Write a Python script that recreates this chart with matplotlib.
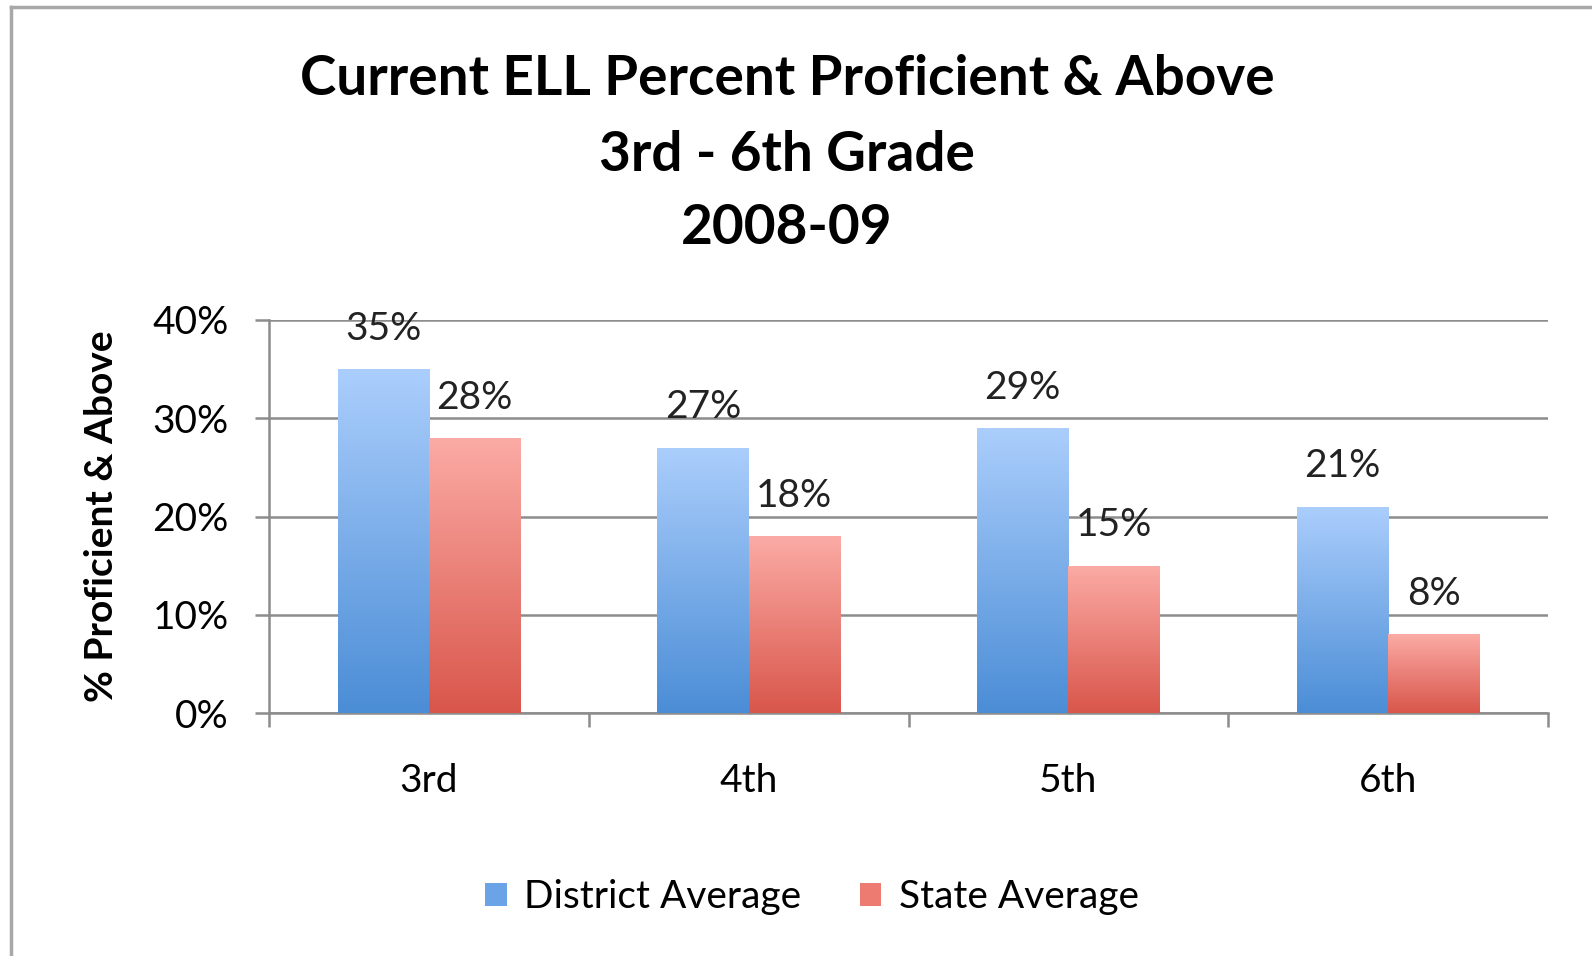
import numpy as np
import matplotlib
matplotlib.use("Agg")
import matplotlib.pyplot as plt
from matplotlib.patches import Patch
from matplotlib.lines import Line2D

grades = ["3rd", "4th", "5th", "6th"]
district = [35, 27, 29, 21]
state = [28, 18, 15, 8]
yticks = [0, 10, 20, 30, 40]

plt.rcParams['font.family'] = ['Lato', 'DejaVu Sans']

blue_top, blue_bot = "#abcefc", "#4b8dd6"
red_top, red_bot = "#fbaba5", "#d9564b"
fs = 28

fig = plt.figure(figsize=(15.92, 9.56), dpi=100)
ax = fig.add_axes([269 / 1592, 1 - 713 / 956, (1548 - 269) / 1592, (713 - 320) / 956])

# outer frame (top + left line only, like the cropped screenshot)
fig.add_artist(Line2D([11 / 1592, 1], [1 - 7 / 956, 1 - 7 / 956], color="#a8a8a8", lw=2.5, transform=fig.transFigure))
fig.add_artist(Line2D([11 / 1592, 11 / 1592], [0, 1 - 7 / 956], color="#a8a8a8", lw=2.5, transform=fig.transFigure))


def grad_bars(xs, vals, top, bot, width):
    bars = ax.bar(xs, vals, width, color="none", edgecolor="none", zorder=3)
    cmap = matplotlib.colors.LinearSegmentedColormap.from_list("g", [bot, top])
    g = np.linspace(0, 1, 256).reshape(-1, 1)
    for b in bars:
        x0 = b.get_x()
        im = ax.imshow(g, cmap=cmap, origin="lower", aspect="auto",
                       extent=[x0, x0 + b.get_width(), 0, b.get_height()], zorder=3)
        im.set_clip_path(b)
    return bars


x = np.arange(len(grades))
w = 0.285
grad_bars(x - w / 2, district, blue_top, blue_bot, w)
grad_bars(x + w / 2, state, red_top, red_bot, w)

for i in range(len(grades)):
    ax.text(x[i] - w / 2, district[i] + 4.1, f"{district[i]}%", ha="center", va="center", fontsize=fs, color="#222222", zorder=4)
    ax.text(x[i] + w / 2, state[i] + 4.1, f"{state[i]}%", ha="center", va="center", fontsize=fs, color="#222222", zorder=4)

ax.set_xlim(-0.5, len(grades) - 0.5)
ax.set_ylim(0, 40)
ax.set_yticks(yticks)
ax.set_yticklabels([f"{t}%" for t in yticks], fontsize=fs)
ax.yaxis.grid(True, color="#8c8c8c", lw=1.8, zorder=0)
ax.set_axisbelow(True)
ax.set_xticks(x)
ax.set_xticklabels(grades, fontsize=fs)
ax.set_xticks(np.arange(len(grades) + 1) - 0.5, minor=True)
ax.tick_params(axis="x", which="major", length=0, pad=36)
ax.tick_params(axis="x", which="minor", length=10, width=1.8, color="#8c8c8c")
ax.tick_params(axis="y", length=10, width=1.8, color="#8c8c8c", pad=19)
for s in ["top", "right"]:
    ax.spines[s].set_visible(False)
ax.spines["left"].set_color("#8c8c8c")
ax.spines["left"].set_linewidth(1.8)
ax.spines["bottom"].set_color("#8c8c8c")
ax.spines["bottom"].set_linewidth(1.8)

ax.set_ylabel("% Proficient & Above", fontsize=fs, fontweight="bold", labelpad=24)

for line, ypx in [("Current ELL Percent Proficient & Above", 79), ("3rd - 6th Grade", 155), ("2008-09", 228)]:
    fig.text(787 / 1592, 1 - ypx / 956, line, ha="center", va="center", fontsize=39.5, fontweight="bold")

handles = [Patch(facecolor="#6aa3e6", edgecolor="none"), Patch(facecolor="#ee7b72", edgecolor="none")]
fig.legend(handles, ["District Average", "State Average"], loc="center", bbox_to_anchor=(812 / 1592, 1 - 897 / 956),
           ncol=2, frameon=False, fontsize=fs, handlelength=0.55, handleheight=0.55, handletextpad=0.45, columnspacing=1.5)

fig.savefig("out.png", dpi=100)
